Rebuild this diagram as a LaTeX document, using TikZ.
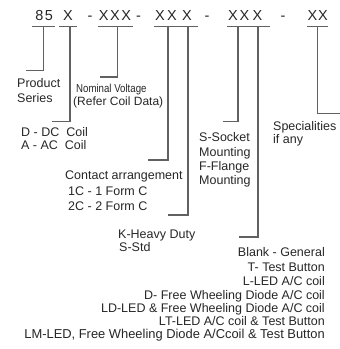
\documentclass[tikz,border=0pt]{standalone}
\usepackage{fontspec}
\usepackage{graphicx}
\setmainfont{Liberation Sans}
\begin{document}
\begin{tikzpicture}[x=1pt,y=-1pt,
  hdr/.style={anchor=base,inner sep=0pt,font=\fontsize{14.5}{16}\selectfont,text=black!85},
  lbl/.style={anchor=base west,inner sep=0pt,font=\fontsize{12.5}{14}\selectfont,text=black!85},
  rlbl/.style={anchor=base east,inner sep=0pt,font=\fontsize{12.5}{14}\selectfont,text=black!85},
  wire/.style={draw=black!62,line width=1.1pt}]
\useasboundingbox (0,0) rectangle (340,349);
% header characters
\node[hdr] (h8) at (39.5,20) {8};
\node[hdr] (h5) at (49,20) {5};
\node[hdr] (hc) at (68,20) {X};
\node[hdr] (d1) at (90,20) {-};
\node[hdr] (v1) at (103.7,20) {X};
\node[hdr] (v2) at (115,20) {X};
\node[hdr] (v3) at (126.3,20) {X};
\node[hdr] (d2) at (138.5,20) {-};
\node[hdr] (c1) at (160,20) {X};
\node[hdr] (c2) at (172,20) {X};
\node[hdr] (k1) at (187,20) {X};
\node[hdr] (d3) at (207,20) {-};
\node[hdr] (m1) at (233,20) {X};
\node[hdr] (m2) at (244.5,20) {X};
\node[hdr] (b1) at (257.5,20) {X};
\node[hdr] (d4) at (283,20) {-};
\node[hdr] (s1) at (312.5,20) {X};
\node[hdr] (s2) at (323,20) {X};
% underlines
\coordinate (u85a) at (32,26.5); \coordinate (u85b) at (55,26.5);
\coordinate (uXa) at (59,26.5); \coordinate (uXb) at (77,26.5);
\coordinate (uVa) at (98,26.5); \coordinate (uVb) at (133,26.5);
\coordinate (uCa) at (154,26.5); \coordinate (uCb) at (198,26.5);
\coordinate (uMa) at (227,26.5); \coordinate (uMb) at (270,26.5);
\coordinate (uSa) at (307,26.5); \coordinate (uSb) at (328,26.5);
\draw[wire] (u85a) -- (u85b);
\draw[wire] (uXa) -- (uXb);
\draw[wire] (uVa) -- (uVb);
\draw[wire] (uCa) -- (uCb);
\draw[wire] (uMa) -- (uMb);
\draw[wire] (uSa) -- (uSb);
% leader lines
\coordinate (t85) at (43.3,26.5);  \coordinate (e85) at (26,70.5);
\coordinate (tX) at (70,26.5);     \coordinate (eX) at (52,121.7);
\coordinate (tV) at (117.5,26.5);  \coordinate (eV) at (100,77);
\coordinate (tC) at (168,26.5);    \coordinate (eC) at (148,160);
\coordinate (tK) at (188,26.5);    \coordinate (eK) at (168,215);
\coordinate (tM) at (238,26.5);    \coordinate (eM) at (223,121.7);
\coordinate (tB) at (258,26.5);    \coordinate (eB) at (239,237);
\coordinate (tS) at (317.3,26.5);  \coordinate (eS) at (340,113.3);
\draw[wire] (t85) |- (e85);
\draw[wire] (tX) |- (eX);
\draw[wire] (tV) |- (eV);
\draw[wire] (tC) |- (eC);
\draw[wire] (tK) |- (eK);
\draw[wire] (tM) |- (eM);
\draw[wire] (tB) |- (eB);
\draw[wire] (tS) |- (eS);
% labels
\node[lbl] (p1) at (17,87.5) {Product};
\node[lbl] (p2) at (17,102.5) {Series};
\node[lbl,font=\fontsize{11.5}{13}\selectfont] (n1) at (76,92) {\scalebox{0.84}[1]{Nominal Voltage}};
\node[lbl,font=\fontsize{12}{14}\selectfont] (n2) at (73,105.5) {(Refer Coil Data)};
\node[lbl] (q1) at (21,136.5) {D - DC~ Coil};
\node[lbl] (q2) at (21,149.5) {A - AC~ Coil};
\node[lbl] (r1) at (65,179) {Contact arrangement};
\node[lbl] (r2) at (68,195) {1C - 1 Form C};
\node[lbl] (r3) at (68,210) {2C - 2 Form C};
\node[lbl] (w1) at (199,141) {S-Socket};
\node[lbl] (w2) at (199,156) {Mounting};
\node[lbl] (w3) at (199,170) {F-Flange};
\node[lbl] (w4) at (199,184) {Mounting};
\node[lbl] (z1) at (273,130) {Specialities};
\node[lbl] (z2) at (273,143.5) {if any};
\node[lbl] (k1l) at (118,238) {K-Heavy Duty};
\node[lbl] (k2l) at (119,251) {S-Std};
\node[rlbl] (o1) at (325,256.5) {Blank - General};
\node[rlbl] (o2) at (325,271) {T- Test Button};
\node[rlbl] (o3) at (325,285.5) {L-LED A/C coil};
\node[rlbl] (o4) at (325,299.5) {D- Free Wheeling Diode A/C coil};
\node[rlbl] (o5) at (325,312.5) {LD-LED \& Free Wheeling Diode A/C coil};
\node[rlbl] (o6) at (325,325.5) {LT-LED A/C coil \& Test Button};
\node[rlbl,font=\fontsize{12.9}{14}\selectfont] (o7) at (325,338) {LM-LED, Free Wheeling Diode A/Ccoil \& Test Button};
\end{tikzpicture}
\end{document}
